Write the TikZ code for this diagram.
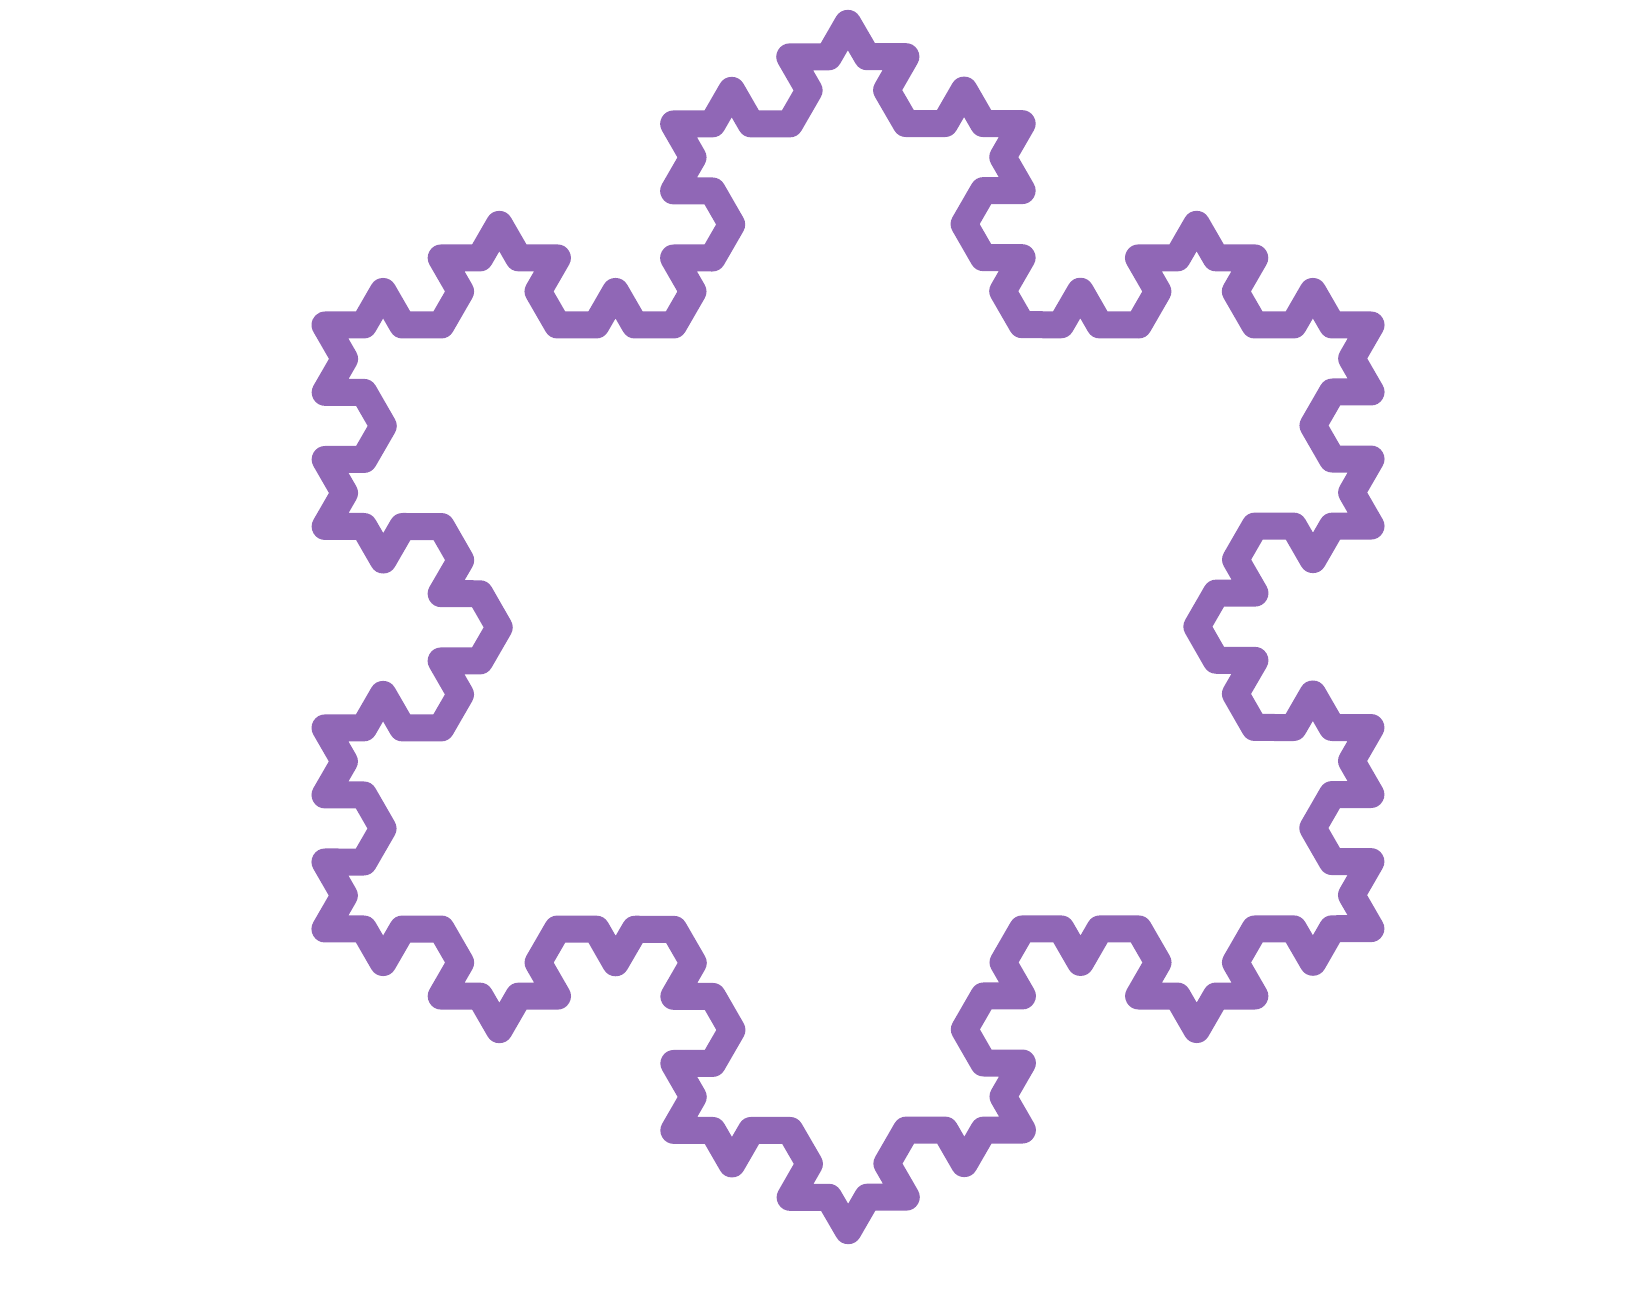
\documentclass[tikz,border=0pt]{standalone}
\usetikzlibrary{decorations.fractals}
\definecolor{kochpurple}{HTML}{9067B6}
\tikzset{kochline/.style={draw=kochpurple, line width=0.27cm, line join=round, line cap=round, decoration=Koch snowflake}}
\begin{document}
\begin{tikzpicture}
\useasboundingbox (0,0) rectangle (16.27,12.92);
\coordinate (A) at (3.25,9.67);
\coordinate (B) at (13.71,9.67);
\coordinate (C) at (8.48,0.61);
\draw[kochline] decorate{decorate{decorate{(A) -- (B) -- (C) -- (A)}}};
\end{tikzpicture}
\end{document}
